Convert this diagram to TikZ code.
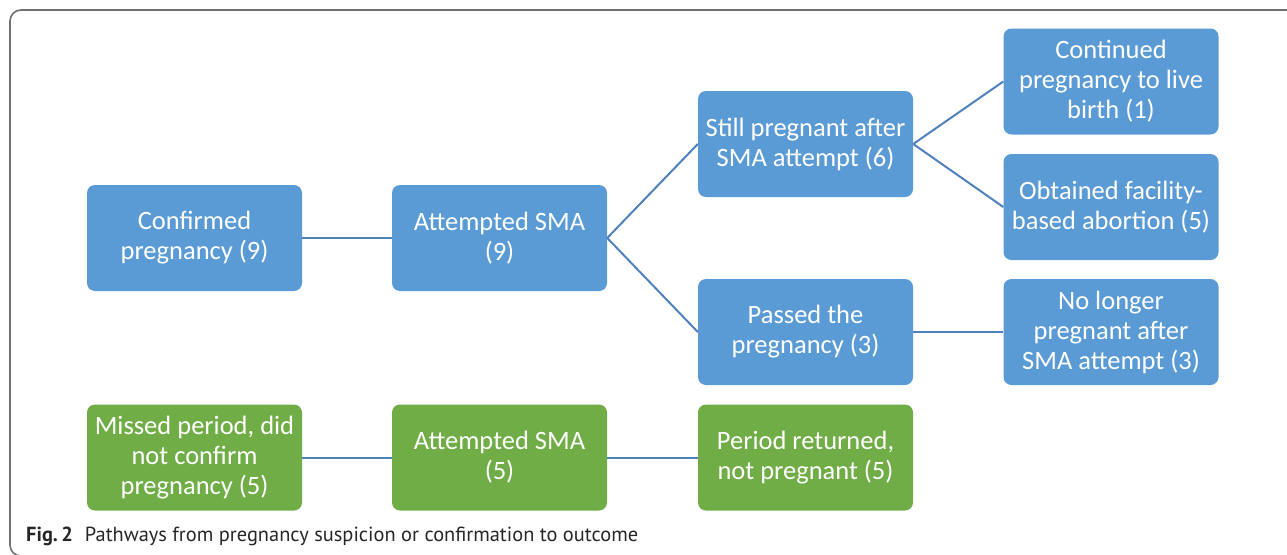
\documentclass[tikz,border=0pt]{standalone}
\usepackage{fontspec}
\setmainfont{Carlito}
\newfontfamily\capfont{PT Sans}
\definecolor{boxblue}{HTML}{5B9BD5}
\definecolor{boxgreen}{HTML}{70AD47}
\definecolor{linkblue}{HTML}{4F81BD}
\definecolor{framegray}{HTML}{707070}
\begin{document}
\begin{tikzpicture}[x=1pt,y=-1pt,
  bx/.style={rounded corners=8pt, minimum width=215pt, minimum height=106pt,
    inner sep=0pt, text=white, align=center,
    font=\fontsize{26.5}{30}\selectfont},
  bbox/.style={bx, fill=boxblue},
  gbox/.style={bx, fill=boxgreen},
  link/.style={draw=linkblue, line width=2pt}]
\useasboundingbox (0,0) rectangle (1287,554);
\draw[framegray, line width=1.6pt, rounded corners=11pt] (1300,10) -- (10,10) -- (10,556) -- (40,556);
% blue boxes
\node[bbox] (conf) at (194.5,238) {Confirmed\\pregnancy (9)};
\node[bbox] (att) at (499.5,238) {Attempted SMA\\(9)};
\node[bbox] (still) at (805.5,144) {Still pregnant after\\SMA attempt (6)};
\node[bbox] (pass) at (805.5,332) {Passed the\\pregnancy (3)};
\node[bbox] (cont) at (1111,81.5) {Continued\\pregnancy to live\\birth (1)};
\node[bbox] (obt) at (1111,207) {Obtained facility-\\based abortion (5)};
\node[bbox] (nolong) at (1111,332) {No longer\\pregnant after\\SMA attempt (3)};
% green boxes
\node[gbox] (miss) at (194.5,457.5) {Missed period, did\\not confirm\\pregnancy (5)};
\node[gbox] (att2) at (499.5,457.5) {Attempted SMA\\(5)};
\node[gbox] (ret) at (805.5,457.5) {Period returned,\\not pregnant (5)};
% connectors
\draw[link] (conf.east) -- (att.west);
\draw[link] (att.east) -- (still.west);
\draw[link] (att.east) -- (pass.west);
\draw[link] (still.east) -- (cont.west);
\draw[link] (still.east) -- (obt.west);
\draw[link] (pass.east) -- (nolong.west);
\draw[link] (miss.east) -- (att2.west);
\draw[link] (att2.east) -- (ret.west);
% caption
\node[anchor=base west, inner sep=0pt, text=black!85, font=\capfont\fontsize{20.4}{24}\selectfont] (cap) at (26,541) {\textbf{Fig.\,2}\hspace{12pt}Pathways from pregnancy suspicion or confirmation to outcome};
\end{tikzpicture}
\end{document}
